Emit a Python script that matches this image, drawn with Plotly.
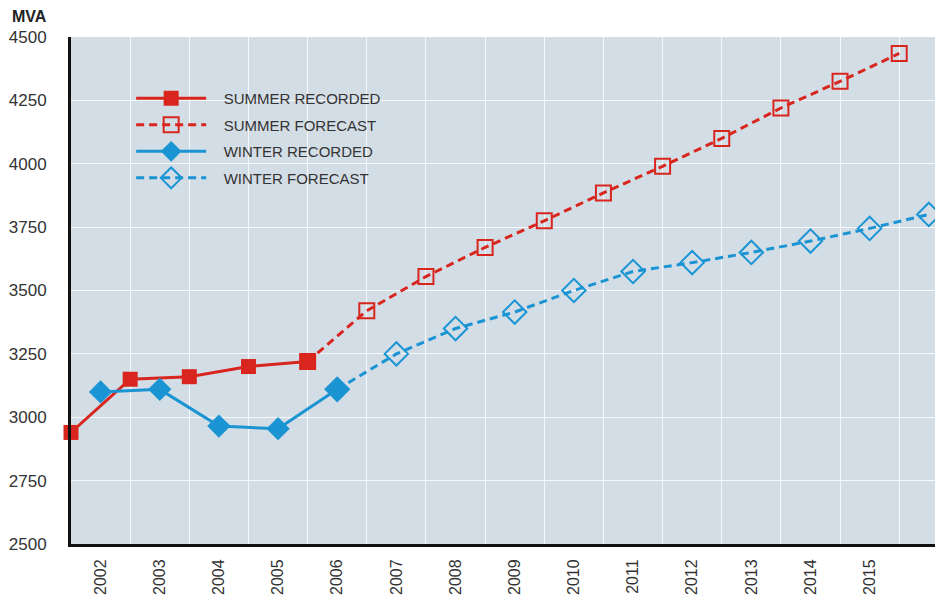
import plotly.graph_objects as go

# summer peaks sit half a year before the winter peaks on the time axis
summer_rec_x = [2001.5, 2002.5, 2003.5, 2004.5, 2005.5]
summer_rec_y = [2940, 3150, 3160, 3200, 3220]
summer_fc_x = [2005.5, 2006.5, 2007.5, 2008.5, 2009.5, 2010.5, 2011.5, 2012.5, 2013.5, 2014.5, 2015.5]
summer_fc_y = [3220, 3420, 3555, 3670, 3775, 3885, 3990, 4100, 4220, 4325, 4435]

winter_rec_x = [2002, 2003, 2004, 2005, 2006]
winter_rec_y = [3100, 3110, 2965, 2955, 3110]
winter_fc_x = [2006, 2007, 2008, 2009, 2010, 2011, 2012, 2013, 2014, 2015, 2016]
winter_fc_y = [3110, 3250, 3350, 3415, 3500, 3575, 3610, 3650, 3695, 3745, 3800]

years = list(range(2002, 2016))
y_ticks = [2500, 2750, 3000, 3250, 3500, 3750, 4000, 4250, 4500]

RED = '#d8261f'
BLUE = '#1a94d3'
DASH = '8px,5px'
PAD = '\u00a0' * 3  # pushes legend text away from the long symbols

fig = go.Figure()

fig.add_trace(go.Scatter(
    x=summer_fc_x, y=summer_fc_y, name=PAD + 'SUMMER FORECAST', mode='lines+markers',
    line=dict(color=RED, width=3, dash=DASH),
    marker=dict(symbol='square-open', size=15, color=RED, line=dict(width=2, color=RED)),
    legendrank=2, legendgroup='b', cliponaxis=False,
))
fig.add_trace(go.Scatter(
    x=winter_fc_x, y=winter_fc_y, name=PAD + 'WINTER FORECAST', mode='lines+markers',
    line=dict(color=BLUE, width=3, dash=DASH),
    marker=dict(symbol='diamond-open', size=18, color=BLUE, line=dict(width=2, color=BLUE)),
    legendrank=4, legendgroup='d', cliponaxis=False,
))
fig.add_trace(go.Scatter(
    x=summer_rec_x, y=summer_rec_y, name=PAD + 'SUMMER RECORDED', mode='lines+markers',
    line=dict(color=RED, width=3),
    marker=dict(symbol='square', size=15, color=RED),
    legendrank=1, legendgroup='a', cliponaxis=False,
))
fig.add_trace(go.Scatter(
    x=winter_rec_x, y=winter_rec_y, name=PAD + 'WINTER RECORDED', mode='lines+markers',
    line=dict(color=BLUE, width=3),
    marker=dict(symbol='diamond', size=18, color=BLUE),
    legendrank=3, legendgroup='c', cliponaxis=False,
))

# the page body adds an 8px margin, so the figure is sized to fit the window
fig.update_layout(
    width=935,
    height=588,
    margin=dict(l=63, r=0, t=29, b=52),
    paper_bgcolor='white',
    plot_bgcolor='#d3dde6',
    font=dict(family='Liberation Sans, Arial, sans-serif', size=17, color='#333333'),
    legend=dict(
        x=0.069, y=0.911, xanchor='left', yanchor='top',
        bgcolor='rgba(0,0,0,0)', font=dict(size=15, color='#333333'),
        itemwidth=70, tracegroupgap=4,
    ),
    annotations=[dict(
        text='<b>MVA</b>', xref='paper', yref='paper', x=0, y=1,
        xanchor='right', yanchor='bottom', xshift=-22, yshift=10,
        showarrow=False, font=dict(size=16, color='#222222'),
    )],
)

fig.update_xaxes(
    range=[2001.5, 2016.24], automargin=False,
    tickmode='array', tickvals=years, ticktext=[str(y) for y in years],
    tickangle=-90, ticklabelstandoff=6, tickfont=dict(size=16),
    showgrid=False, zeroline=False,
    showline=True, linecolor='#111111', linewidth=3,
    minor=dict(tickmode='linear', tick0=2001.5, dtick=1, showgrid=True,
               gridcolor='rgba(255,255,255,0.8)', gridwidth=1),
)
fig.update_yaxes(
    range=[2500, 4500], automargin=False,
    tickmode='array', tickvals=y_ticks,
    ticklabelstandoff=18,
    showgrid=True, gridcolor='rgba(255,255,255,0.8)', gridwidth=1,
    zeroline=False,
    showline=True, linecolor='#111111', linewidth=3,
)

fig.write_html("out.html")
